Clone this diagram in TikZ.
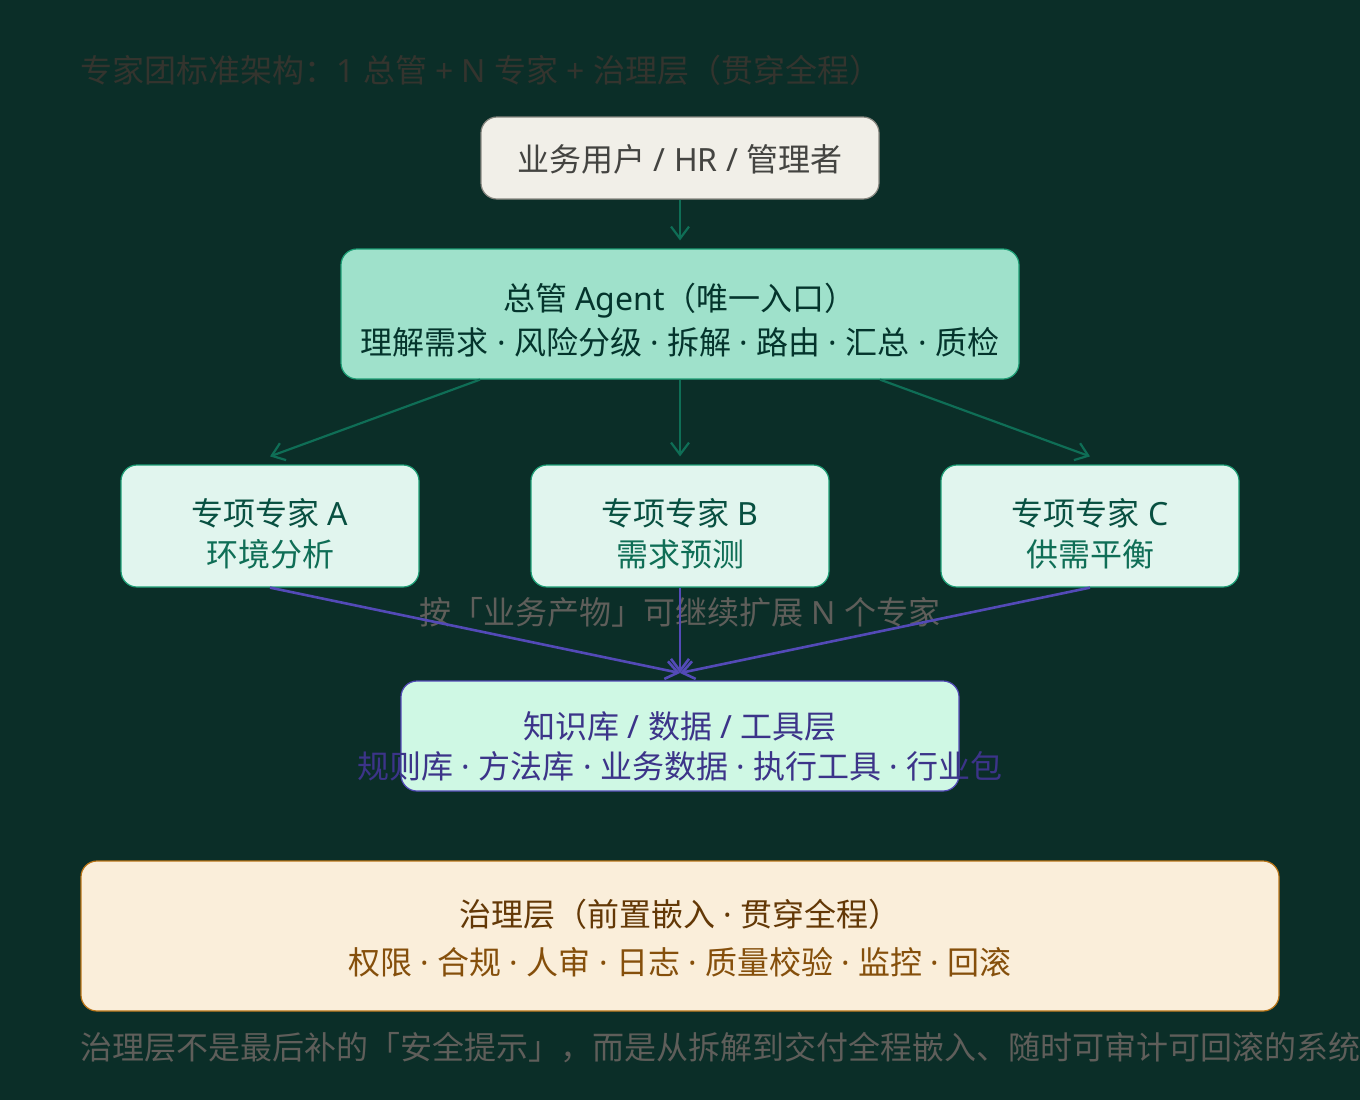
\documentclass[tikz,border=0pt]{standalone}
\usepackage{fontspec}
\setmainfont{Noto Sans CJK SC}
\newfontfamily\dotfont{Noto Sans}
\usetikzlibrary{positioning,calc,arrows.meta}
\definecolor{bgc}{HTML}{0B2E28}
\definecolor{titlec}{HTML}{34342E}
\definecolor{notec}{HTML}{5F5E5A}
\definecolor{userfill}{HTML}{F1EFE8}
\definecolor{userdraw}{HTML}{888780}
\definecolor{usertext}{HTML}{444441}
\definecolor{chieffill}{HTML}{9FE1CB}
\definecolor{chiefdraw}{HTML}{1D9E75}
\definecolor{chieftext}{HTML}{04342C}
\definecolor{expfill}{HTML}{E1F5EE}
\definecolor{exptitle}{HTML}{085041}
\definecolor{exptext}{HTML}{0F6E56}
\definecolor{kbfill}{HTML}{CFF8E4}
\definecolor{kbdraw}{HTML}{534AB7}
\definecolor{kbtext}{HTML}{3C3489}
\definecolor{govfill}{HTML}{FAEEDA}
\definecolor{govdraw}{HTML}{BA7517}
\definecolor{govtitle}{HTML}{633806}
\definecolor{govtext}{HTML}{854F0B}
\definecolor{greenline}{HTML}{0F6E56}
\newcommand{\sep}{{\dotfont\ ·\ }}
\newcommand{\lt}[1]{{\dotfont #1}}
\newcommand{\lift}[1]{\rule{0pt}{#1}}

\begin{document}
\begin{tikzpicture}[x=0.5pt,y=-0.5pt]
\tikzset{box/.style={draw,rounded corners=8pt,line width=0.6pt,align=center,inner sep=0pt,font=\fontsize{16}{22}\selectfont},
  expert/.style={box,fill=expfill,draw=chiefdraw,text=exptitle,minimum width=149pt,minimum height=61pt,font=\fontsize{16}{20.5}\selectfont},
  flow/.style={-{Straight Barb[length=6pt,width=9pt]},greenline,line width=1.1pt},
  feed/.style={-{Straight Barb[length=6pt,width=9pt]},kbdraw,line width=1.3pt}};
   \useasboundingbox[fill=bgc] (0,0) rectangle (1360,1100);

   \node[anchor=west,inner sep=0pt,text=titlec,font=\fontsize{16}{20}\selectfont] (title) at (80,70) {专家团标准架构：\lt{1\ }总管\lt{\ + N\ }专家\lt{\ +\ }治理层（贯穿全程）};

   \node[box,fill=userfill,draw=userdraw,text=usertext,minimum width=199pt,minimum height=41pt] (user) at (680,158) {\lift{14.5pt}业务用户\lt{\ / HR /\ }管理者};
   \node[box,fill=chieffill,draw=chiefdraw,text=chieftext,minimum width=339pt,minimum height=65pt] (chief) at (680,314) {\lift{20pt}总管\lt{\ Agent}（唯一入口）\\理解需求\sep 风险分级\sep 拆解\sep 路由\sep 汇总\sep 质检};

   \node[expert] (expA) at (270,526) {\lift{21.5pt}专项专家\lt{\ A}\\\textcolor{exptext}{环境分析}};
   \node[expert] (expB) at (680,526) {\lift{21.5pt}专项专家\lt{\ B}\\\textcolor{exptext}{需求预测}};
   \node[expert] (expC) at (1090,526) {\lift{21.5pt}专项专家\lt{\ C}\\\textcolor{exptext}{供需平衡}};

   \node[text=notec,font=\fontsize{16}{20}\selectfont] (more) at (680,612) {按「业务产物」可继续扩展\lt{\ N\ }个专家};

   \node[box,fill=kbfill,draw=kbdraw,text=kbtext,minimum width=279pt,minimum height=55pt,font=\fontsize{16}{20}\selectfont] (kb) at (680,736) {\lift{24pt}知识库\lt{\ /\ }数据\lt{\ /\ }工具层\\\makebox[0pt]{规则库\sep 方法库\sep 业务数据\sep 执行工具\sep 行业包}};

   \node[box,fill=govfill,draw=govdraw,text=govtitle,minimum width=599pt,minimum height=75pt,font=\fontsize{16}{24}\selectfont] (gov) at (680,936) {\lift{16pt}治理层（前置嵌入\sep 贯穿全程）\\\textcolor{govtext}{权限\sep 合规\sep 人审\sep 日志\sep 质量校验\sep 监控\sep 回滚}};

   \node[anchor=west,inner sep=0pt,text=notec,font=\fontsize{16}{20}\selectfont] (foot) at (80,1048) {治理层不是最后补的「安全提示」，而是从拆解到交付全程嵌入、随时可审计可回滚的系统};

   % user -> chief -> experts
   \coordinate (hub) at (680,673);
   \draw[flow] (user) -- ($(chief.north)+(0,-8)$);
   \draw[flow] ($(chief.south)+(-200,0)$) -- ($(expA.north)+(0,-8)$);
   \draw[flow] (chief.south) -- ($(expB.north)+(0,-8)$);
   \draw[flow] ($(chief.south)+(200,0)$) -- ($(expC.north)+(0,-8)$);

   % experts -> knowledge layer
   \draw[feed] (expA.south) -- (hub);
   \draw[feed] (expB.south) -- (hub);
   \draw[feed] (expC.south) -- (hub);
\end{tikzpicture}
\end{document}
